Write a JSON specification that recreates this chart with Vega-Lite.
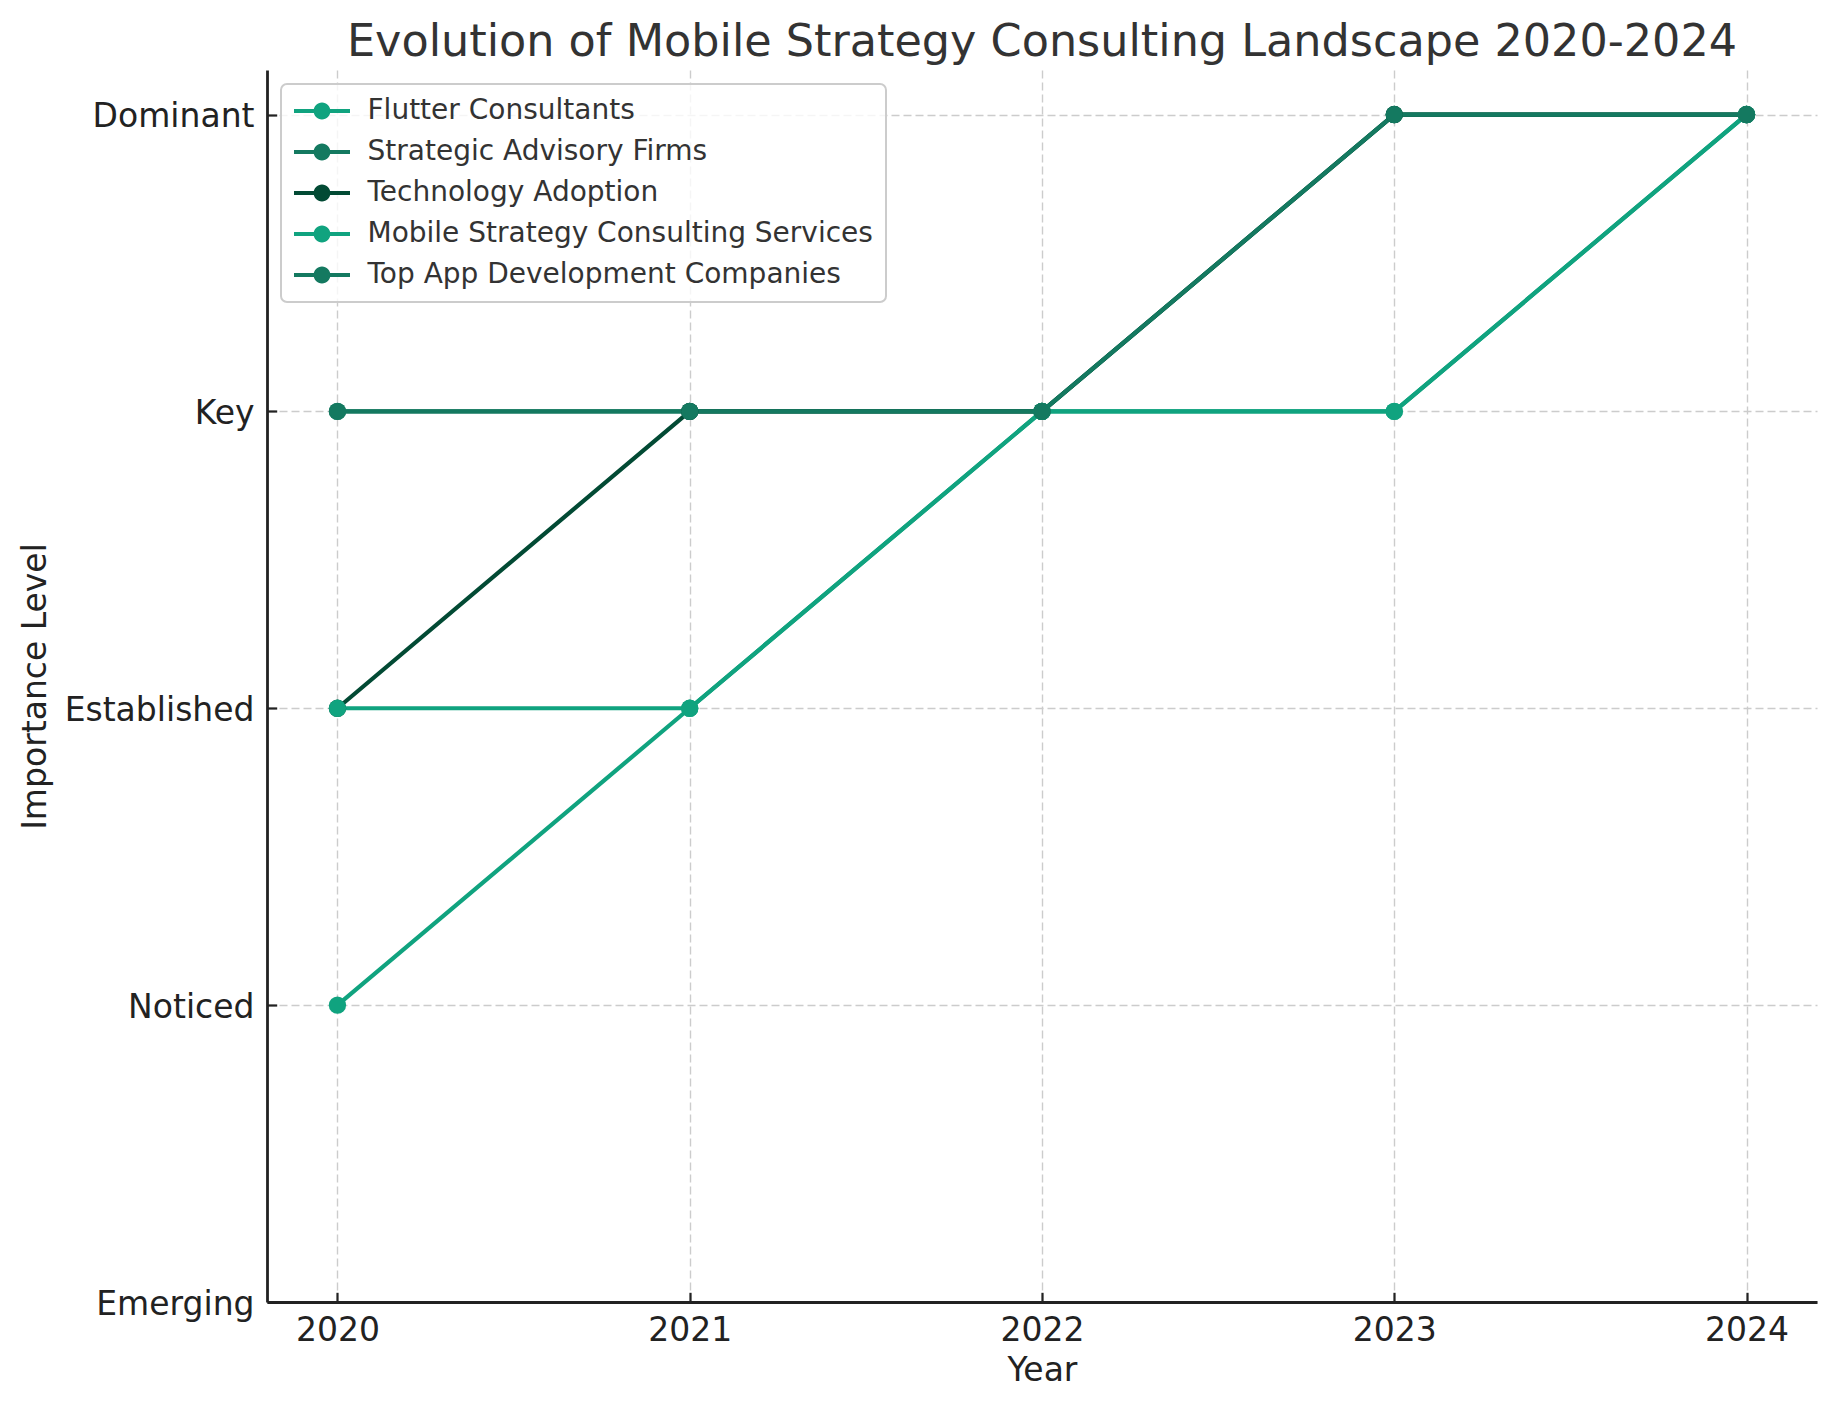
{
  "$schema": "https://vega.github.io/schema/vega-lite/v6.json",
  "width": 1550,
  "height": 1232,
  "autosize": {"type": "none"},
  "padding": {"left": 267, "top": 70, "right": 18, "bottom": 107},
  "background": "white",
  "title": {
    "text": "Evolution of Mobile Strategy Consulting Landscape 2020-2024",
    "font": "DejaVu Sans",
    "fontSize": 44.5,
    "fontWeight": "normal",
    "color": "#333333",
    "anchor": "middle",
    "baseline": "alphabetic",
    "offset": 17,
    "dy": 47
  },
  "data": {
    "values": [
      {"series": "Flutter Consultants", "year": 2020, "level": 1},
      {"series": "Flutter Consultants", "year": 2021, "level": 2},
      {"series": "Flutter Consultants", "year": 2022, "level": 3},
      {"series": "Flutter Consultants", "year": 2023, "level": 3},
      {"series": "Flutter Consultants", "year": 2024, "level": 4},
      {"series": "Strategic Advisory Firms", "year": 2020, "level": 3},
      {"series": "Strategic Advisory Firms", "year": 2021, "level": 3},
      {"series": "Strategic Advisory Firms", "year": 2022, "level": 3},
      {"series": "Strategic Advisory Firms", "year": 2023, "level": 4},
      {"series": "Strategic Advisory Firms", "year": 2024, "level": 4},
      {"series": "Technology Adoption", "year": 2020, "level": 2},
      {"series": "Technology Adoption", "year": 2021, "level": 3},
      {"series": "Technology Adoption", "year": 2022, "level": 3},
      {"series": "Technology Adoption", "year": 2023, "level": 4},
      {"series": "Technology Adoption", "year": 2024, "level": 4},
      {"series": "Mobile Strategy Consulting Services", "year": 2020, "level": 2},
      {"series": "Mobile Strategy Consulting Services", "year": 2021, "level": 2},
      {"series": "Mobile Strategy Consulting Services", "year": 2022, "level": 3},
      {"series": "Mobile Strategy Consulting Services", "year": 2023, "level": 3},
      {"series": "Mobile Strategy Consulting Services", "year": 2024, "level": 4},
      {"series": "Top App Development Companies", "year": 2020, "level": 3},
      {"series": "Top App Development Companies", "year": 2021, "level": 3},
      {"series": "Top App Development Companies", "year": 2022, "level": 3},
      {"series": "Top App Development Companies", "year": 2023, "level": 4},
      {"series": "Top App Development Companies", "year": 2024, "level": 4}
    ]
  },
  "mark": {
    "type": "line",
    "strokeWidth": 4.2,
    "point": {"filled": true, "size": 300, "opacity": 1}
  },
  "encoding": {
    "x": {
      "field": "year",
      "type": "quantitative",
      "scale": {"domain": [2019.8, 2024.2], "nice": false, "zero": false},
      "axis": {
        "title": "Year",
        "values": [2020, 2021, 2022, 2023, 2024],
        "format": "d",
        "labelPadding": 21.7,
        "titleY": 68,
        "titleBaseline": "middle"
      }
    },
    "y": {
      "field": "level",
      "type": "quantitative",
      "scale": {"domain": [0, 4.15], "nice": false, "zero": false},
      "axis": {
        "title": "Importance Level",
        "values": [0, 1, 2, 3, 4],
        "labelExpr": "['Emerging', 'Noticed', 'Established', 'Key', 'Dominant'][datum.value]",
        "labelPadding": 22.7,
        "labelBaseline": "middle",
        "labelOffset": 2,
        "titleX": -232,
        "titleY": 616,
        "titleAngle": 270,
        "titleAlign": "center",
        "titleBaseline": "middle"
      }
    },
    "color": {
      "field": "series",
      "type": "nominal",
      "scale": {
        "domain": ["Flutter Consultants", "Strategic Advisory Firms", "Technology Adoption", "Mobile Strategy Consulting Services", "Top App Development Companies"],
        "range": ["#10a37f", "#147960", "#024a34", "#10a37f", "#147960"]
      },
      "legend": {
        "title": null,
        "orient": "none",
        "legendX": 14,
        "legendY": 14,
        "symbolType": "M-2,-0.15L2,-0.15L2,0.15L-2,0.15ZM0.6,0A0.6,0.6,0,1,1,-0.6,0A0.6,0.6,0,1,1,0.6,0Z",
        "symbolSize": 784,
        "symbolOffset": 14,
        "labelOffset": 31.5,
        "encode": {
          "symbols": {
            "update": {
              "fill": {"scale": "color", "field": "value"},
              "stroke": {"value": "transparent"},
              "strokeWidth": {"value": 0},
              "opacity": {"value": 1}
            }
          }
        }
      }
    }
  },
  "config": {
    "view": {"stroke": null},
    "font": "DejaVu Sans",
    "axis": {
      "labelFont": "DejaVu Sans",
      "labelFontSize": 33,
      "labelColor": "#222222",
      "labelOverlap": false,
      "labelFlush": false,
      "labelLimit": 0,
      "titleFont": "DejaVu Sans",
      "titleFontSize": 33,
      "titleFontWeight": "normal",
      "titleColor": "#222222",
      "domainColor": "#222222",
      "domainWidth": 2.8,
      "tickColor": "#222222",
      "tickWidth": 2.2,
      "tickSize": -9.7,
      "grid": true,
      "gridColor": "#cccccc",
      "gridWidth": 1.4,
      "gridDash": [8, 4]
    },
    "legend": {
      "labelFont": "DejaVu Sans",
      "labelFontSize": 28,
      "labelColor": "#333333",
      "labelLimit": 0,
      "padding": 13,
      "rowPadding": 13,
      "fillColor": "rgba(255,255,255,0.8)",
      "strokeColor": "#cccccc",
      "strokeWidth": 2,
      "cornerRadius": 6
    }
  }
}
